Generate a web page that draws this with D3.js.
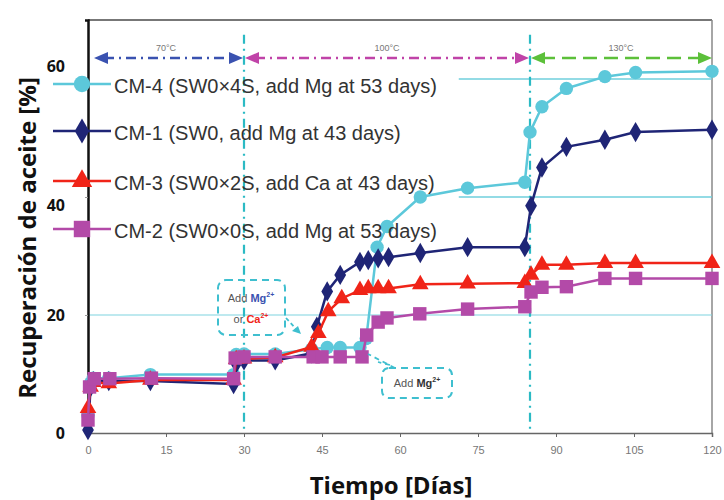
<!DOCTYPE html>
<html><head><meta charset="utf-8">
<script src="https://cdn.jsdelivr.net/npm/d3@7"></script>
<style>body{margin:0;background:#fff}svg{display:block}</style>
</head><body><svg id="c" width="724" height="500"></svg>
<script>
const xTicks=[0,15,30,45,60,75,90,105,120];
const yTicks=[0,20,40,60];
const seriesNames=["CM-4 (SW0×4S, add Mg at 53 days)","CM-1 (SW0, add Mg at 43 days)","CM-3 (SW0×2S, add Ca at 43 days)","CM-2 (SW0×0S, add Mg at 53 days)"];
const cm4Days=[0,0.5,1,4,12,28,28.5,30,36,43,46,48.5,52.3,53.5,55.6,57.5,63.9,73,84,85,87.3,92,99.4,105.3,120];
const cm4Values=[3,8.5,9.3,9.3,9.9,9.9,13.3,13.4,13.4,14.2,14.5,14.5,14.5,16,31.5,35,40,41.5,42.5,51,55.3,58.4,60.4,61.1,61.3];
const cm1Days=[0,0.5,1,4,12,28,28.5,30,36,43,44,46,48.5,52.3,53.9,55.8,57.8,63.9,73,84,85.2,87.3,92,99.4,105.3,120];
const cm1Values=[0.5,7.8,8.8,8.8,8.8,8.3,11.8,12.3,12.3,13.5,18,24,26.8,29,29.3,29.6,29.8,30.5,31.5,31.5,38.5,45,48.5,49.7,51,51.4];
const cm3Days=[0,0.5,1,4,12,28,28.5,30,36,43,44.3,46.2,48.8,52.3,53.9,55.8,57.8,63.9,73,84,85.2,87.3,92,99.4,105.3,120];
const cm3Values=[4.2,7.8,8.6,8.4,9,9,12.5,12.6,12.8,14.6,16.9,20.6,22.8,24.2,24.5,24.5,24.5,25.2,25.3,25.4,26.8,28.5,28.5,28.8,28.8,28.8];
const cm2Days=[0,0.3,1.2,4.2,12.2,28,28.3,30,36,43.3,45,48.5,52.7,53.6,55.8,57.5,63.8,73,84,85.2,87.3,92,99.4,105.3,120];
const cm2Values=[2.2,7.8,9.2,9.2,9.3,9.2,12.7,12.9,12.9,12.9,12.9,12.9,12.9,16.6,18.8,19.5,20.2,21,21.4,23.9,24.7,24.8,26.2,26.2,26.2];
const tempLabels=["70°C","100°C","130°C"];
const tempStart=[0,30,85], tempEnd=[30,85,120];
const stageLines=[30,85];

const svg=d3.select("#c");
const x=d3.scaleLinear().domain([0,120]).range([88,712]);
const y=d3.scaleLinear().domain([0,70]).range([433,20]);
const FONT="'Liberation Sans',Arial,sans-serif";

// frame
svg.append("line").attr("x1",x(0)).attr("x2",x(120)).attr("y1",y(70)).attr("y2",y(70)).attr("stroke","#777").attr("stroke-width",2);
svg.append("line").attr("x1",x(120)).attr("x2",x(120)).attr("y1",y(70)).attr("y2",y(0)).attr("stroke","#888").attr("stroke-width",1.5);

// gridlines
svg.append("line").attr("x1",x(0)).attr("x2",x(120)).attr("y1",y(20)).attr("y2",y(20)).attr("stroke","#7fd3df").attr("stroke-width",1.2);
[40,60].forEach(v=>svg.append("line").attr("x1",x(71.3)).attr("x2",x(120)).attr("y1",y(v)).attr("y2",y(v)).attr("stroke","#6fcfdc").attr("stroke-width",1.5));

// x axis
const xa=svg.append("g").attr("transform",`translate(0,${y(0)})`).call(d3.axisBottom(x).tickValues(xTicks).tickSize(4).tickPadding(9));
xa.select(".domain").attr("stroke","#666").attr("stroke-width",1.5);
xa.selectAll(".tick line").attr("stroke","#666");
xa.selectAll("text").attr("fill","#777").style("font-family",FONT).style("font-size","11px");

// y axis
const ya=svg.append("g").attr("transform",`translate(${x(0)},0)`).call(d3.axisLeft(y).tickValues(yTicks).tickSize(3).tickPadding(20));
ya.select(".domain").attr("stroke","#111").attr("stroke-width",2.5);
ya.selectAll(".tick line").attr("stroke","#999");
ya.selectAll("text").attr("fill","#111").style("font-family","'Open Sans',sans-serif").style("font-weight","bold").style("font-size","16px");
ya.selectAll(".tick text").attr("dy",d=>d===60?"-0.45em":(d===40?"0.85em":"0.32em"));

// stage vertical lines
svg.selectAll(".stage").data(stageLines).enter().append("line")
 .attr("x1",d=>x(d)).attr("x2",d=>x(d)).attr("y1",y(67.5)).attr("y2",y(0))
 .attr("stroke","#2bbac4").attr("stroke-width",2.2).attr("stroke-dasharray","9,5,2,5");

// temperature arrows
const tcol=["#3a52b0","#c043a8","#5cc03a"];
const tdash=["10,5,2,5","10,5,2,5","14,7"];
const ay=58;
function head(px,dir,col){
  svg.append("path").attr("d",`M${px},${ay} L${px-dir*14},${ay-6} L${px-dir*14},${ay+6}Z`).attr("fill",col);
}
tempLabels.forEach((t,i)=>{
  const x1=x(tempStart[i])+(i==0?6:1), x2=x(tempEnd[i])-(i==2?0:1);
  svg.append("line").attr("x1",x1+10).attr("x2",x2-10).attr("y1",ay).attr("y2",ay).attr("stroke",tcol[i]).attr("stroke-width",2.5).attr("stroke-dasharray",tdash[i]);
  head(x1,-1,tcol[i]); head(x2,1,tcol[i]);
  svg.append("text").attr("x",(x(tempStart[i])+x(tempEnd[i]))/2).attr("y",ay-7).attr("text-anchor","middle")
   .attr("fill","#777").style("font-family",FONT).style("font-size","9px").text(t);
});

// series
const colors=["#5cc8da","#1f2576","#f02418","#b34aa8"];
const symbols=[d3.symbolCircle,d3.symbolDiamond,d3.symbolTriangle,d3.symbolSquare];
const sizes=[140,120,120,180];
const data=[[cm4Days,cm4Values],[cm1Days,cm1Values],[cm3Days,cm3Values],[cm2Days,cm2Values]];
const line=d3.line().x(d=>x(d[0])).y(d=>y(d[1]));
data.forEach((s,i)=>{
  const pts=s[0].map((d,j)=>[d,s[1][j]]);
  svg.append("path").datum(pts).attr("d",line).attr("fill","none").attr("stroke",colors[i]).attr("stroke-width",2.5);
  svg.selectAll(".m"+i).data(pts).enter().append("path")
   .attr("transform",d=>`translate(${x(d[0])},${y(d[1])})`)
   .attr("d",d3.symbol().type(symbols[i]).size(sizes[i])).attr("fill",colors[i]);
});

// legend
const legY=[84,131,181,229];
seriesNames.forEach((n,i)=>{
  svg.append("line").attr("x1",53).attr("x2",111).attr("y1",legY[i]).attr("y2",legY[i]).attr("stroke",colors[i]).attr("stroke-width",2.5);
  svg.append("path").attr("transform",`translate(82,${legY[i]})`).attr("d",d3.symbol().type(symbols[i]).size(sizes[i]*1.5)).attr("fill",colors[i]);
  svg.append("text").attr("x",114).attr("y",legY[i]+9).attr("fill","#333").style("font-family",FONT).style("font-size","20px").text(n);
});

// annotations
const ac="#3fbfcf";
svg.append("rect").attr("x",218).attr("y",280).attr("width",67).attr("height",55).attr("rx",8)
 .attr("fill","none").attr("stroke",ac).attr("stroke-width",2).attr("stroke-dasharray","7,5");
const t1=svg.append("text").attr("x",251).attr("y",302).attr("text-anchor","middle").style("font-family",FONT).style("font-size","11px");
t1.append("tspan").attr("fill","#555").text("Add ");
t1.append("tspan").attr("fill","#3a52b0").attr("font-weight","bold").text("Mg");
t1.append("tspan").attr("fill","#3a52b0").attr("font-weight","bold").attr("font-size","7px").attr("dy",-5).text("2+");
const t2=svg.append("text").attr("x",251).attr("y",323).attr("text-anchor","middle").style("font-family",FONT).style("font-size","11px");
t2.append("tspan").attr("fill","#555").text("or ");
t2.append("tspan").attr("fill","#f02418").attr("font-weight","bold").text("Ca");
t2.append("tspan").attr("fill","#f02418").attr("font-weight","bold").attr("font-size","7px").attr("dy",-5).text("2+");
svg.append("path").attr("d","M286,318 L298,331").attr("stroke",ac).attr("stroke-width",1.8).attr("stroke-dasharray","4,3");
svg.append("path").attr("d","M301,334 L292,331 L298,326Z").attr("fill",ac);

svg.append("rect").attr("x",382).attr("y",368).attr("width",70).attr("height",30).attr("rx",7)
 .attr("fill","none").attr("stroke",ac).attr("stroke-width",2).attr("stroke-dasharray","7,5");
const t3=svg.append("text").attr("x",417).attr("y",387).attr("text-anchor","middle").style("font-family",FONT).style("font-size","11px");
t3.append("tspan").attr("fill","#555").text("Add ");
t3.append("tspan").attr("fill","#333").attr("font-weight","bold").text("Mg");
t3.append("tspan").attr("fill","#333").attr("font-weight","bold").attr("font-size","7px").attr("dy",-5).text("2+");
svg.append("path").attr("d","M395,368 L368,354").attr("stroke",ac).attr("stroke-width",1.8).attr("stroke-dasharray","5,4");
svg.append("path").attr("d","M390,365 L378,362").attr("stroke",ac).attr("stroke-width",1.8).attr("stroke-dasharray","5,4");

// axis titles
svg.append("text").attr("x",391).attr("y",494).attr("text-anchor","middle").attr("fill","#111")
 .style("font-family","'Open Sans',sans-serif").style("font-weight","bold").style("font-size","24px").text("Tiempo [Días]");
svg.append("text").attr("transform","translate(36,238) rotate(-90)").attr("text-anchor","middle").attr("fill","#111")
 .style("font-family","'Open Sans',sans-serif").style("font-weight","bold").style("font-size","24px").text("Recuperación de aceite [%]");
</script></body></html>
